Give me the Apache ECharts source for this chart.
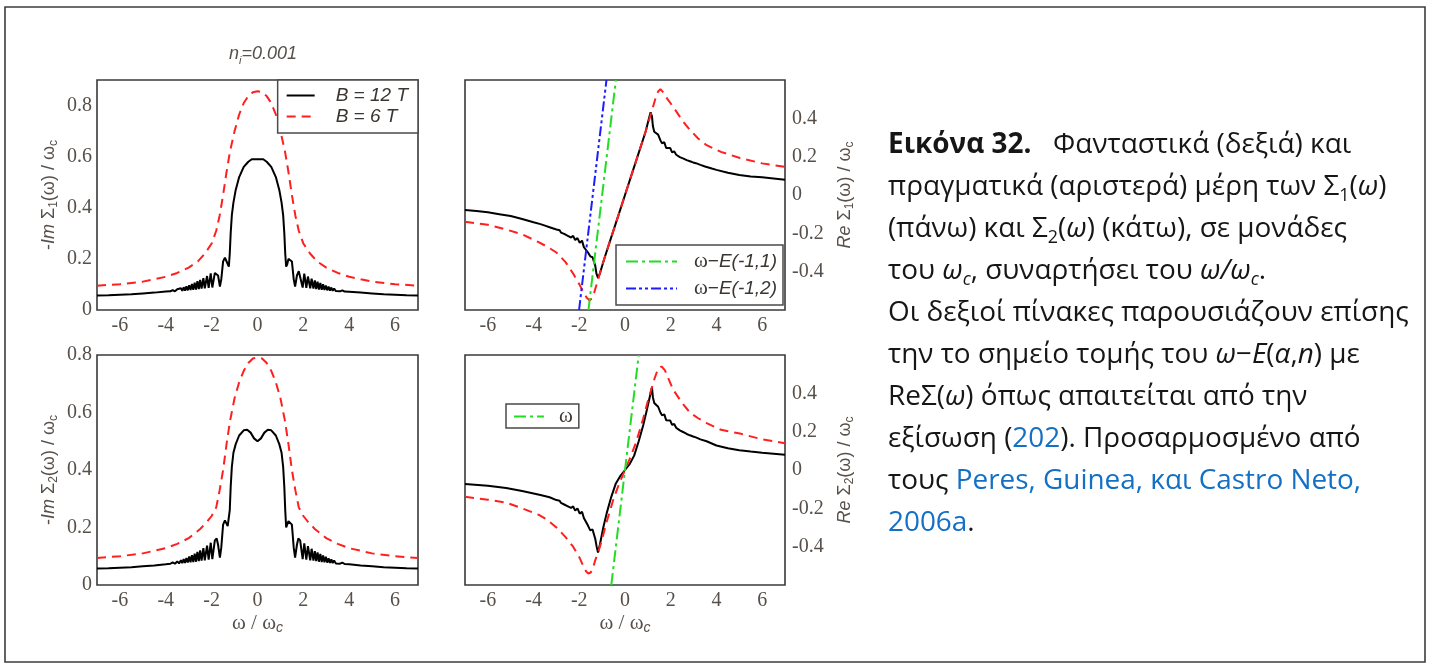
<!DOCTYPE html>
<html>
<head>
<meta charset="utf-8">
<script src="https://cdn.jsdelivr.net/npm/echarts@6/dist/echarts.min.js"></script>
<style>
  html, body { margin: 0; padding: 0; background: #fff; }
  #wrap { position: relative; width: 1432px; height: 668px; }
  #main, #frame { position: absolute; left: 0; top: 0; width: 1432px; height: 668px; }
  #frame { pointer-events: none; }
</style>
</head>
<body>
<div id="wrap"><div id="main"></div><div id="frame"></div></div>
<script>
// ---- tick labels and tick marks -------------------------------------------
const xLabels = [-6, -4, -2, 0, 2, 4, 6];
const imLabels = [0, 0.2, 0.4, 0.6, 0.8];
const reLabels = [-0.4, -0.2, 0, 0.2, 0.4];
const xMajorTicks = [-6, -4, -2, 0, 2, 4, 6];
const xMinorTicks = [-5, -3, -1, 1, 3, 5];
const imMajorTicks = [0.2, 0.4, 0.6, 0.8];
const imMinorTicks = [0.1, 0.3, 0.5, 0.7];
const reMajorTicks = [-0.4, -0.2, 0, 0.2, 0.4];
const reMinorTicks = [-0.5, -0.3, -0.1, 0.1, 0.3, 0.5];

// ---- -Im Σ1(ω)/ωc -------------------------------------------------------------
const imSigma1_B12 = [
  [-7,0.057],[-6.5,0.058],[-6,0.06],[-5.5,0.062],[-5,0.065],[-4.5,0.068],[-4,0.072],
  [-3.8,0.073],[-3.7,0.078],[-3.6,0.073],[-3.5,0.081],[-3.42,0.074],[-3.34,0.085],[-3.28,0.075],
  [-3.22,0.089],[-3.16,0.076],[-3.1,0.093],[-3.04,0.077],[-2.98,0.097],[-2.92,0.078],[-2.86,0.102],
  [-2.8,0.079],[-2.74,0.107],[-2.68,0.08],[-2.62,0.113],[-2.56,0.082],[-2.5,0.118],[-2.44,0.084],
  [-2.36,0.125],[-2.3,0.085],[-2.2,0.133],[-2.13,0.087],[-2.04,0.143],[-1.97,0.088],[-1.86,0.145],
  [-1.8,0.152],[-1.72,0.135],[-1.64,0.092],[-1.58,0.12],[-1.5,0.19],[-1.42,0.205],[-1.35,0.2],
  [-1.3,0.18],[-1.25,0.17],[-1.21,0.22],[-1.17,0.3],[-1.12,0.37],[-1.05,0.42],[-0.95,0.47],
  [-0.8,0.52],[-0.6,0.56],[-0.4,0.58],[-0.25,0.59],[0,0.59],
  [0.25,0.59],[0.4,0.58],[0.6,0.56],[0.8,0.52],[0.95,0.47],[1.05,0.42],[1.12,0.37],[1.17,0.3],
  [1.21,0.22],[1.25,0.17],[1.3,0.18],[1.35,0.2],[1.42,0.205],[1.5,0.19],[1.58,0.12],[1.64,0.092],
  [1.72,0.135],[1.8,0.152],[1.86,0.145],[1.97,0.088],[2.04,0.142],[2.13,0.087],[2.2,0.131],[2.3,0.085],
  [2.36,0.123],[2.44,0.084],[2.5,0.116],[2.56,0.082],[2.62,0.111],[2.68,0.08],[2.74,0.106],
  [2.8,0.079],[2.86,0.101],[2.92,0.078],[2.98,0.096],[3.04,0.077],[3.1,0.092],[3.16,0.076],
  [3.22,0.088],[3.28,0.075],[3.34,0.084],[3.42,0.074],[3.5,0.08],[3.6,0.073],[3.7,0.077],
  [3.8,0.072],[4,0.071],[4.5,0.068],[5,0.065],[5.5,0.062],[6,0.06],[6.5,0.058],[7,0.057]
];
const imSigma1_B6 = [
  [-7,0.095],[-6,0.101],[-5,0.111],[-4.5,0.12],[-4,0.13],[-3.5,0.145],[-3,0.166],[-2.6,0.19],
  [-2.3,0.22],[-2,0.26],[-1.8,0.31],[-1.65,0.37],[-1.5,0.45],[-1.35,0.54],[-1.2,0.62],[-1,0.7],
  [-0.8,0.765],[-0.6,0.81],[-0.4,0.837],[-0.2,0.852],[0,0.856],[0.2,0.852],[0.4,0.837],[0.6,0.81],
  [0.8,0.765],[1,0.7],[1.2,0.62],[1.35,0.54],[1.5,0.45],[1.65,0.37],[1.8,0.31],[2,0.26],[2.3,0.22],
  [2.6,0.19],[3,0.166],[3.5,0.145],[4,0.13],[4.5,0.12],[5,0.111],[6,0.101],[7,0.095]
];

// ---- Re Σ1(ω)/ωc ----------------------------------------------------------------
const reSigma1_B12 = [
  [-7,-0.078],[-6.5,-0.083],[-6,-0.09],[-5.5,-0.1],[-5,-0.11],[-4.5,-0.125],[-4,-0.142],
  [-3.7,-0.152],[-3.5,-0.16],[-3.3,-0.168],[-3.1,-0.176],[-3,-0.18],[-2.93,-0.19],[-2.86,-0.184],
  [-2.8,-0.196],[-2.73,-0.19],[-2.66,-0.203],[-2.59,-0.196],[-2.52,-0.212],[-2.44,-0.204],
  [-2.36,-0.222],[-2.27,-0.213],[-2.18,-0.235],[-2.08,-0.225],[-1.98,-0.25],[-1.88,-0.238],
  [-1.8,-0.272],[-1.72,-0.268],[-1.62,-0.3],[-1.52,-0.32],[-1.42,-0.325],[-1.35,-0.33],
  [-1.3,-0.37],[-1.25,-0.41],[-1.18,-0.432],[-1.1,-0.41],[-0.9,-0.33],[-0.6,-0.22],[-0.3,-0.11],
  [0,0],[0.3,0.11],[0.6,0.22],[0.9,0.33],[1.05,0.4],[1.12,0.432],[1.18,0.41],[1.22,0.36],
  [1.28,0.33],[1.35,0.33],[1.45,0.315],[1.55,0.285],[1.62,0.27],[1.72,0.275],[1.8,0.245],
  [1.88,0.24],[1.98,0.245],[2.06,0.222],[2.15,0.228],[2.24,0.21],[2.32,0.214],[2.4,0.198],
  [2.48,0.202],[2.56,0.19],[2.63,0.192],[2.7,0.182],[2.77,0.185],[2.84,0.176],[2.91,0.178],
  [2.98,0.17],[3.1,0.166],[3.3,0.157],[3.5,0.149],[3.8,0.138],[4,0.131],[4.5,0.116],[5,0.104],
  [5.5,0.097],[6,0.092],[6.5,0.086],[7,0.08]
];
const reSigma1_B6 = [
  [-7,-0.14],[-6,-0.155],[-5.2,-0.18],[-4.5,-0.205],[-3.8,-0.245],[-3.4,-0.27],[-3,-0.3],
  [-2.6,-0.35],[-2.27,-0.41],[-2,-0.465],[-1.83,-0.505],[-1.68,-0.535],[-1.55,-0.55],[-1.45,-0.54],
  [-1.35,-0.51],[-1.25,-0.47],[-1.1,-0.41],[-0.9,-0.33],[-0.6,-0.22],[-0.3,-0.11],[0,0],[0.3,0.11],
  [0.6,0.22],[0.9,0.33],[1.1,0.41],[1.25,0.47],[1.35,0.51],[1.45,0.54],[1.55,0.552],[1.68,0.535],
  [1.83,0.505],[2.11,0.46],[2.5,0.39],[2.84,0.34],[3.2,0.295],[3.57,0.26],[4.2,0.225],[5.03,0.193],
  [6,0.165],[7,0.147]
];
const omegaMinusE11 = [[-1.6,-0.6],[-0.4,0.6]];
const omegaMinusE12 = [[-2.01,-0.6],[-0.81,0.6]];

// ---- -Im Σ2(ω)/ωc -------------------------------------------------------------
const imSigma2_B12 = [
  [-7,0.057],[-6.5,0.058],[-6,0.06],[-5.5,0.062],[-5,0.065],[-4.5,0.068],[-4,0.072],
  [-3.8,0.074],[-3.7,0.079],[-3.6,0.074],[-3.5,0.082],[-3.42,0.075],[-3.34,0.086],[-3.28,0.076],
  [-3.22,0.09],[-3.16,0.077],[-3.1,0.094],[-3.04,0.078],[-2.98,0.099],[-2.92,0.079],[-2.86,0.104],
  [-2.8,0.08],[-2.74,0.109],[-2.68,0.081],[-2.62,0.115],[-2.56,0.083],[-2.5,0.12],[-2.44,0.085],
  [-2.36,0.128],[-2.3,0.086],[-2.2,0.137],[-2.13,0.088],[-2.04,0.147],[-1.97,0.09],[-1.86,0.155],
  [-1.78,0.162],[-1.72,0.14],[-1.64,0.095],[-1.58,0.13],[-1.5,0.21],[-1.42,0.225],[-1.35,0.222],
  [-1.3,0.205],[-1.25,0.2],[-1.21,0.26],[-1.17,0.34],[-1.12,0.41],[-1.05,0.46],[-0.95,0.49],
  [-0.8,0.52],[-0.6,0.538],[-0.45,0.54],[-0.3,0.53],[-0.15,0.51],[0,0.5],[0.15,0.51],[0.3,0.53],
  [0.45,0.54],[0.6,0.538],[0.8,0.52],[0.95,0.49],[1.05,0.46],[1.12,0.41],[1.17,0.34],[1.21,0.26],
  [1.25,0.2],[1.3,0.205],[1.35,0.222],[1.42,0.225],[1.5,0.21],[1.58,0.13],[1.64,0.095],[1.72,0.14],
  [1.78,0.162],[1.86,0.155],[1.97,0.09],[2.04,0.145],[2.13,0.088],[2.2,0.135],[2.3,0.086],
  [2.36,0.126],[2.44,0.085],[2.5,0.118],[2.56,0.083],[2.62,0.113],[2.68,0.081],[2.74,0.108],
  [2.8,0.08],[2.86,0.103],[2.92,0.079],[2.98,0.098],[3.04,0.078],[3.1,0.093],[3.16,0.077],
  [3.22,0.089],[3.28,0.076],[3.34,0.085],[3.42,0.075],[3.5,0.081],[3.6,0.074],[3.7,0.078],
  [3.8,0.073],[4,0.072],[4.5,0.068],[5,0.065],[5.5,0.062],[6,0.06],[6.5,0.058],[7,0.057]
];
const imSigma2_B6 = [
  [-7,0.094],[-6,0.1],[-5,0.11],[-4,0.128],[-3.5,0.143],[-3,0.163],[-2.5,0.195],[-2.2,0.22],
  [-2,0.24],[-1.8,0.27],[-1.65,0.33],[-1.5,0.4],[-1.35,0.49],[-1.2,0.57],[-1,0.65],[-0.8,0.705],
  [-0.6,0.745],[-0.4,0.772],[-0.2,0.788],[0,0.792],[0.2,0.788],[0.4,0.772],[0.6,0.745],[0.8,0.705],
  [1,0.65],[1.2,0.57],[1.35,0.49],[1.5,0.4],[1.65,0.33],[1.8,0.27],[2,0.24],[2.2,0.22],[2.5,0.195],
  [3,0.163],[3.5,0.143],[4,0.128],[5,0.11],[6,0.1],[7,0.094]
];

// ---- Re Σ2(ω)/ωc ----------------------------------------------------------------
const reSigma2_B12 = [
  [-7,-0.073],[-6,-0.082],[-5.2,-0.094],[-4.5,-0.11],[-3.7,-0.13],[-3.3,-0.142],[-3,-0.157],
  [-2.93,-0.165],[-2.86,-0.16],[-2.8,-0.172],[-2.73,-0.166],[-2.66,-0.18],[-2.59,-0.173],
  [-2.52,-0.188],[-2.44,-0.18],[-2.36,-0.198],[-2.27,-0.19],[-2.18,-0.212],[-2.08,-0.2],
  [-1.98,-0.228],[-1.88,-0.218],[-1.8,-0.25],[-1.72,-0.245],[-1.62,-0.29],[-1.52,-0.315],
  [-1.42,-0.31],[-1.35,-0.32],[-1.3,-0.36],[-1.24,-0.4],[-1.18,-0.43],[-1.1,-0.39],[-0.95,-0.3],
  [-0.8,-0.225],[-0.6,-0.14],[-0.4,-0.07],[-0.2,-0.03],[0,0],[0.2,0.03],[0.4,0.075],[0.6,0.15],
  [0.8,0.235],[0.95,0.31],[1.1,0.39],[1.18,0.43],[1.22,0.38],[1.28,0.35],[1.35,0.35],[1.45,0.33],
  [1.55,0.3],[1.62,0.285],[1.72,0.29],[1.8,0.26],[1.88,0.255],[1.98,0.258],[2.06,0.235],
  [2.15,0.24],[2.24,0.22],[2.32,0.224],[2.4,0.207],[2.48,0.21],[2.56,0.197],[2.63,0.199],
  [2.7,0.188],[2.77,0.19],[2.84,0.181],[2.91,0.183],[2.98,0.175],[3.1,0.17],[3.3,0.16],
  [3.57,0.15],[4,0.128],[4.5,0.113],[5,0.103],[5.5,0.096],[6,0.09],[6.5,0.085],[7,0.08]
];
const reSigma2_B6 = [
  [-7,-0.14],[-6,-0.155],[-5.2,-0.17],[-4.5,-0.2],[-3.75,-0.235],[-3.4,-0.26],[-3,-0.3],
  [-2.6,-0.35],[-2.27,-0.4],[-2,-0.455],[-1.83,-0.5],[-1.7,-0.53],[-1.6,-0.54],[-1.5,-0.535],
  [-1.4,-0.51],[-1.3,-0.47],[-1.15,-0.42],[-1,-0.36],[-0.8,-0.27],[-0.5,-0.15],[-0.25,-0.07],
  [0,0],[0.25,0.07],[0.5,0.15],[0.8,0.27],[1,0.36],[1.15,0.42],[1.3,0.48],[1.45,0.53],[1.6,0.54],
  [1.75,0.52],[2.1,0.42],[2.5,0.35],[2.84,0.3],[3.2,0.27],[3.57,0.245],[4.2,0.21],[5.03,0.19],
  [6,0.16],[7,0.14]
];
const omegaLine = [[-0.6,-0.6],[0.6,0.6]];

// ---- caption -------------------------------------------------------------
const captionLines = [
  '{b|Εικόνα 32.}{t|   Φανταστικά (δεξιά) και}',
  '{t|πραγματικά (αριστερά) μέρη των Σ}{s|1}{t|(}{i|ω}{t|)}',
  '{t|(πάνω) και Σ}{s|2}{t|(}{i|ω}{t|) (κάτω), σε μονάδες}',
  '{t|του }{i|ω}{is|c}{t|, συναρτήσει του }{i|ω/ω}{is|c}{t|.}',
  '{t|Οι δεξιοί πίνακες παρουσιάζουν επίσης}',
  '{t|την το σημείο τομής του }{i|ω}{t|−}{i|E}{t|(}{i|α}{t|,}{i|n}{t|) με}',
  '{t|ReΣ(}{i|ω}{t|) όπως απαιτείται από την}',
  '{t|εξίσωση (}{l|202}{t|). Προσαρμοσμένο από}',
  '{t|τους }{l|Peres, Guinea, και Castro Neto,}',
  '{l|2006a}{t|.}'
];

// ---- styling ---------------------------------------------------------------
const AXC = '#3a3a3a';
const LBL = '#57504a';
const SERIF = 'Liberation Serif';
const SANS = 'Liberation Sans';

const panels = [
  { left: 97,  top: 80,  width: 321, height: 230, y: [0, 0.9],    yLabels: imLabels, side: 'left',
    yMajor: imMajorTicks, yMinor: imMinorTicks,
    yName: '{t|-}{it|Im}{t| Σ}{s|1}{t|(ω) / ω}{s|c}', xName: '' },
  { left: 465, top: 80,  width: 320, height: 230, y: [-0.6, 0.6], yLabels: reLabels, side: 'right',
    yMajor: reMajorTicks, yMinor: reMinorTicks,
    yName: '{it|Re}{t| Σ}{s|1}{t|(ω) / ω}{s|c}', xName: '' },
  { left: 97,  top: 355, width: 321, height: 230, y: [0, 0.8],    yLabels: imLabels, side: 'left',
    yMajor: imMajorTicks, yMinor: imMinorTicks,
    yName: '{t|-}{it|Im}{t| Σ}{s|2}{t|(ω) / ω}{s|c}', xName: '{w|ω / ω}{c|c}' },
  { left: 465, top: 355, width: 320, height: 230, y: [-0.6, 0.6], yLabels: reLabels, side: 'right',
    yMajor: reMajorTicks, yMinor: reMinorTicks,
    yName: '{it|Re}{t| Σ}{s|2}{t|(ω) / ω}{s|c}', xName: '{w|ω / ω}{c|c}' }
];

const nameRich = {
  t:  { fontFamily: SANS, fontSize: 18, color: LBL, lineHeight: 22 },
  it: { fontFamily: SANS, fontStyle: 'italic', fontSize: 18, color: LBL, lineHeight: 22 },
  s:  { fontFamily: SANS, fontSize: 12, color: LBL, lineHeight: 11, verticalAlign: 'bottom' },
  w:  { fontFamily: SERIF, fontSize: 21, color: LBL, lineHeight: 24 },
  c:  { fontFamily: SANS, fontStyle: 'italic', fontSize: 14, color: LBL, lineHeight: 12, verticalAlign: 'bottom' }
};
const tickFont = { fontFamily: SERIF, fontSize: 20, color: LBL };
const fmt = v => String(Math.round(v * 10) / 10);

function xAxis(g, pos, p) {
  const a = {
    gridIndex: g, type: 'value', position: pos, min: -7, max: 7,
    axisLine: { show: false, onZero: false }, axisTick: { show: false },
    splitLine: { show: false }, axisLabel: { show: false }
  };
  if (pos === 'bottom') {
    a.axisLabel = Object.assign({ show: true, customValues: xLabels, margin: 6, formatter: fmt }, tickFont);
    a.name = p.xName; a.nameLocation = 'middle'; a.nameGap = 26; a.nameTextStyle = { rich: nameRich };
  }
  return a;
}
function yAxis(g, pos, p) {
  const a = {
    gridIndex: g, type: 'value', position: pos, min: p.y[0], max: p.y[1],
    axisLine: { show: false, onZero: false }, axisTick: { show: false },
    splitLine: { show: false }, axisLabel: { show: false }
  };
  if (pos === p.side) {
    a.axisLabel = Object.assign({ show: true, customValues: p.yLabels, margin: pos === 'left' ? 5 : 7, formatter: fmt }, tickFont);
    a.name = p.yName; a.nameLocation = 'middle'; a.nameRotate = 90;
    a.nameGap = pos === 'left' ? 37 : 49; a.nameTextStyle = { rich: nameRich };
  }
  return a;
}

const grids = [], xAxes = [], yAxes = [];
panels.forEach((p, g) => {
  grids.push({ left: p.left, top: p.top, width: p.width, height: p.height,
    show: true, borderColor: AXC, borderWidth: 1.6 });
  xAxes.push(xAxis(g, 'bottom', p), xAxis(g, 'top', p));
  yAxes.push(yAxis(g, p.side, p), yAxis(g, p.side === 'left' ? 'right' : 'left', p));
});

const blackLine = { color: '#000', width: 2 };
const redDash = { color: '#ff1f1f', width: 2, type: [9, 6] };
const greenDashDot = { color: '#22dd22', width: 2, type: [12, 4, 3, 4] };
const blueDashDotDot = { color: '#1c1cff', width: 2, type: [10, 3, 3, 3, 3, 3] };

function curve(name, panel, data, style) {
  return {
    name, type: 'line', xAxisIndex: panel * 2, yAxisIndex: panel * 2, data,
    symbol: 'none', showSymbol: false, smooth: false, clip: true, silent: true,
    lineStyle: style, itemStyle: { color: style.color }, emphasis: { disabled: true }
  };
}

const series = [
  curve('B = 12 T', 0, imSigma1_B12, blackLine),
  curve('B = 6 T', 0, imSigma1_B6, redDash),
  curve('B = 12 T', 1, reSigma1_B12, blackLine),
  curve('B = 6 T', 1, reSigma1_B6, redDash),
  curve('ω−E(-1,1)', 1, omegaMinusE11, greenDashDot),
  curve('ω−E(-1,2)', 1, omegaMinusE12, blueDashDotDot),
  curve('B = 12 T', 2, imSigma2_B12, blackLine),
  curve('B = 6 T', 2, imSigma2_B6, redDash),
  curve('B = 12 T', 3, reSigma2_B12, blackLine),
  curve('B = 6 T', 3, reSigma2_B6, redDash),
  curve('ω', 3, omegaLine, greenDashDot)
];

const legendLabels = {
  'B = 12 T': '{e|B = 12 T}',
  'B = 6 T': '{e|B = 6 T}',
  'ω−E(-1,1)': '{w|ω}{t|−}{e|E(-1,1)}',
  'ω−E(-1,2)': '{w|ω}{t|−}{e|E(-1,2)}',
  'ω': '{w|ω}'
};
const legendRich = {
  e: { fontFamily: SANS, fontStyle: 'italic', fontSize: 19, color: '#3b3631', lineHeight: 21 },
  t: { fontFamily: SANS, fontSize: 19, color: '#3b3631', lineHeight: 21 },
  w: { fontFamily: SERIF, fontSize: 21, color: '#3b3631', lineHeight: 21 }
};
function legendBox(extra) {
  return Object.assign({
    orient: 'vertical', selectedMode: false, itemHeight: 14,
    borderColor: '#4a4a4a', borderWidth: 1.5, borderRadius: 0, backgroundColor: '#fff',
    itemStyle: { opacity: 0, borderWidth: 0 },
    formatter: n => legendLabels[n] || n
  }, extra);
}
const legends = [
  legendBox({ data: ['B = 12 T', 'B = 6 T'], right: 1432 - 418, top: 80, itemWidth: 28, itemGap: 0,
    padding: [5, 10, 6, 8], textStyle: { rich: legendRich, lineHeight: 21, padding: [0, 0, 0, 16] } }),
  legendBox({ data: ['ω−E(-1,1)', 'ω−E(-1,2)'], right: 1432 - 783, top: 245, itemWidth: 51, itemGap: 6,
    padding: [6, 6, 6, 9], textStyle: { rich: legendRich, lineHeight: 21, padding: [0, 0, 0, 12] } }),
  legendBox({ data: ['ω'], left: 506, top: 404, itemWidth: 30, itemGap: 0,
    padding: [2, 6, 1, 7], textStyle: { rich: legendRich, lineHeight: 21, padding: [0, 0, 0, 10] } })
];

// caption font size chosen so the longest line spans the text column
function fitSize(text, family, target) {
  const c = document.createElement('canvas').getContext('2d');
  c.font = '100px "' + family + '"';
  return 100 * target / c.measureText(text).width;
}
const CAP_FONT = 'Open Sans';
const capSize = fitSize('Οι δεξιοί πίνακες παρουσιάζουν επίσης', CAP_FONT, 521);
const capSub = capSize * 0.64;
const capRich = {
  t:  { fill: '#161616', fontFamily: CAP_FONT, fontSize: capSize, lineHeight: capSize * 1.3 },
  b:  { fill: '#161616', fontFamily: CAP_FONT, fontSize: capSize, fontWeight: 'bold', lineHeight: capSize * 1.3 },
  i:  { fill: '#161616', fontFamily: CAP_FONT, fontSize: capSize, fontStyle: 'italic', lineHeight: capSize * 1.3 },
  s:  { fill: '#161616', fontFamily: CAP_FONT, fontSize: capSub, lineHeight: capSub * 1.2, verticalAlign: 'bottom' },
  is: { fill: '#161616', fontFamily: CAP_FONT, fontSize: capSub, fontStyle: 'italic', lineHeight: capSub * 1.2, verticalAlign: 'bottom' },
  l:  { fill: '#1470c4', fontFamily: CAP_FONT, fontSize: capSize, lineHeight: capSize * 1.3 }
};
const CAP_X = 888, CAP_Y0 = 145, CAP_DY = 42;

const graphic = [
  { type: 'rect', silent: true, shape: { x: 5, y: 7, width: 1420, height: 655 },
    style: { fill: 'none', stroke: '#3c3c3c', lineWidth: 1.6 } }
].concat(captionLines.map((t, i) => ({
  type: 'text', silent: true, x: CAP_X, y: CAP_Y0 + CAP_DY * i,
  style: { text: t, rich: capRich, align: 'left', verticalAlign: 'middle' }
})));

const chart = echarts.init(document.getElementById('main'), null, { renderer: 'canvas' });
chart.setOption({
  animation: false,
  backgroundColor: '#fff',
  title: {
    text: '{n|n}{s|i}{n|=0.001}', left: 258, top: 37, textAlign: 'center',
    textStyle: { fontWeight: 'normal', rich: {
      n: { fontFamily: SANS, fontStyle: 'italic', fontWeight: 'normal', fontSize: 18, color: LBL, lineHeight: 24 },
      s: { fontFamily: SANS, fontStyle: 'italic', fontWeight: 'normal', fontSize: 11, color: LBL, lineHeight: 11, verticalAlign: 'bottom' }
    } }
  },
  grid: grids,
  xAxis: xAxes,
  yAxis: yAxes,
  legend: legends,
  series,
  graphic
});

// ---- tick frame: a transparent chart laid over the panels that carries only
// the inward major/minor ticks, one grid for the major set and one for the minor set
const fGrids = [], fX = [], fY = [], fSeries = [];
panels.forEach((p, g) => {
  [[xMajorTicks, p.yMajor, 11], [xMinorTicks, p.yMinor, 6]].forEach(([xv, yv, len]) => {
    const gi = fGrids.length;
    fGrids.push({ left: p.left, top: p.top, width: p.width, height: p.height, show: false });
    const tick = vals => ({ show: true, inside: true, length: len, customValues: vals, lineStyle: { color: AXC, width: 1.5 } });
    const base = { gridIndex: gi, type: 'value', splitLine: { show: false },
      axisLine: { show: false, onZero: false }, axisLabel: { show: false } };
    fX.push(Object.assign({}, base, { position: 'bottom', min: -7, max: 7, axisTick: tick(xv) }),
            Object.assign({}, base, { position: 'top', min: -7, max: 7, axisTick: tick(xv) }));
    fY.push(Object.assign({}, base, { position: 'left', min: p.y[0], max: p.y[1], axisTick: tick(yv) }),
            Object.assign({}, base, { position: 'right', min: p.y[0], max: p.y[1], axisTick: tick(yv) }));
    fSeries.push({ type: 'line', xAxisIndex: gi * 2, yAxisIndex: gi * 2, data: [[-7, p.y[0]]],
      symbol: 'none', silent: true, lineStyle: { opacity: 0 } });
  });
});
const frame = echarts.init(document.getElementById('frame'));
frame.setOption({ animation: false, backgroundColor: 'rgba(0,0,0,0)',
  grid: fGrids, xAxis: fX, yAxis: fY, series: fSeries });
</script>
</body>
</html>
